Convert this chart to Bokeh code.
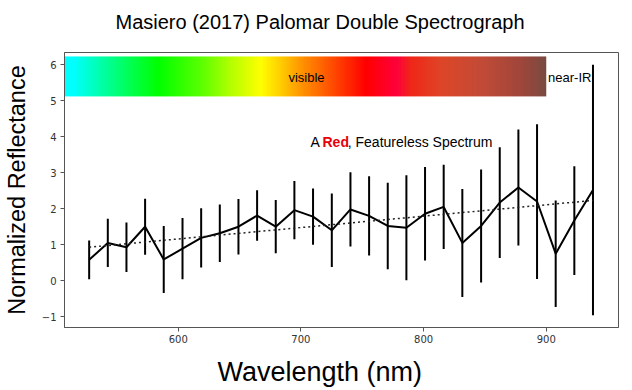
import numpy as np
from bokeh.plotting import figure
from bokeh.models import Label, FixedTicker, Title
from bokeh.embed import file_html
from bokeh.resources import INLINE

# ---- data ----
wavelength = [527.4, 542.6, 557.8, 573.0, 588.2, 603.5, 618.7, 633.9, 649.1, 664.3,
              679.5, 694.7, 709.9, 725.2, 740.4, 755.6, 770.8, 786.0, 801.2, 816.4,
              831.6, 846.9, 862.1, 877.3, 892.5, 907.7, 922.9, 938.1]
reflectance = [0.58, 1.05, 0.93, 1.50, 0.59, 0.89, 1.19, 1.32, 1.50, 1.81,
               1.50, 1.96, 1.78, 1.40, 1.98, 1.80, 1.52, 1.47, 1.86, 2.05,
               1.05, 1.52, 2.17, 2.59, 2.20, 0.75, 1.67, 2.52]
error = [0.54, 0.67, 0.69, 0.78, 0.93, 0.85, 0.82, 0.80, 0.77, 0.70,
         0.74, 0.81, 0.78, 1.02, 1.03, 1.10, 1.20, 1.46, 1.30, 1.17,
         1.50, 1.57, 1.54, 1.61, 2.15, 1.48, 1.51, 3.48]
trend_x = [527.4, 938.1]
trend_y = [0.93, 2.23]

x_ticks = [600, 700, 800, 900]
y_ticks = [-1, 0, 1, 2, 3, 4, 5, 6]

# colour band (wavelength stops and colours)
band_stops = [507.3, 514.6, 536.7, 583.1, 618.2, 642.6, 667.1, 683.4, 699.7,
              724.2, 752.7, 777.2, 789.4, 813.9, 846.5, 879.1, 900.0]
band_colors = [(0, 255, 255), (0, 255, 255), (0, 255, 170), (0, 255, 0), (90, 255, 0),
               (180, 255, 0), (255, 255, 0), (255, 205, 0), (255, 150, 0), (255, 80, 0),
               (255, 0, 0), (255, 0, 60), (240, 40, 25), (222, 70, 40), (195, 75, 55),
               (160, 70, 60), (120, 75, 65)]
band_x0, band_x1 = 507.3, 900.0
band_y0, band_y1 = 5.12, 6.23

X0, X1 = 507.3, 958.9
Y0, Y1 = -1.30, 6.34

FONT = "Liberation Sans"

p = figure(width=632, height=390, x_range=(X0, X1), y_range=(Y0, Y1),
           output_backend="svg", toolbar_location=None,
           min_border_left=64, min_border_right=14, min_border_top=52, min_border_bottom=63)

# spacer between frame and title, then the title itself
p.add_layout(Title(text=" ", text_font_size="2px", standoff=16, text_color="white"), "above")
p.add_layout(Title(text="Masiero (2017) Palomar Double Spectrograph", align="left", offset=51,
                   text_font=FONT, text_font_size="20px", text_font_style="normal",
                   text_color="black", standoff=0), "above")

p.xgrid.visible = False
p.ygrid.visible = False
p.outline_line_color = "#555555"
p.outline_line_width = 1

for ax in (p.xaxis[0], p.yaxis[0]):
    ax.axis_line_color = "#555555"
    ax.major_tick_line_color = "#555555"
    ax.major_tick_out = 4
    ax.major_tick_in = 0
    ax.minor_tick_line_color = None
    ax.major_label_text_font = "DejaVu Sans"
    ax.major_label_text_font_size = "10px"
    ax.major_label_text_color = "#333333"
    ax.axis_label_text_font = FONT
    ax.axis_label_text_font_style = "normal"
    ax.axis_label_text_color = "black"

p.xaxis.ticker = FixedTicker(ticks=x_ticks)
p.yaxis.ticker = FixedTicker(ticks=y_ticks)
p.yaxis.axis_label = "Normalized Reflectance"
p.yaxis.axis_label_text_font_size = "23.5px"
p.xaxis.major_label_standoff = 3
p.yaxis.major_label_standoff = 4
p.yaxis.axis_label_standoff = 9

# x-axis label: spacer below the axis, then the label
p.add_layout(Title(text=" ", text_font_size="2px", standoff=5, text_color="white"), "below")
p.add_layout(Title(text="Wavelength (nm)", align="left", offset=153,
                   text_font=FONT, text_font_size="27px", text_font_style="normal",
                   text_color="black", standoff=0), "below")

# colour band image
N = 600
xs = np.linspace(band_x0, band_x1, N)
rgba = np.zeros((1, N, 4), dtype=np.uint8)
for c in range(3):
    rgba[0, :, c] = np.interp(xs, band_stops, [col[c] for col in band_colors]).astype(np.uint8)
rgba[0, :, 3] = 255
img = rgba.view(dtype=np.uint32).reshape((1, N))
p.image_rgba(image=[img], x=band_x0, y=band_y0, dw=band_x1 - band_x0, dh=band_y1 - band_y0)

# error bars, line, trend
wl = np.array(wavelength)
rf = np.array(reflectance)
er = np.array(error)
p.segment(x0=wl, y0=rf - er, x1=wl, y1=rf + er, line_color="black", line_width=2)
p.line(wl, rf, line_color="black", line_width=2)
p.line(trend_x, trend_y, line_color="#222222", line_width=1.5, line_dash="2 3")

# annotations
p.add_layout(Label(x=704.6, y=5.65, text="visible", text_align="center", text_baseline="middle",
                   text_font=FONT, text_font_size="13px", text_color="black"))
p.add_layout(Label(x=901.5, y=5.65, text="near-IR", text_align="left", text_baseline="middle",
                   text_font=FONT, text_font_size="13px", text_color="black"))
p.add_layout(Label(x=707.8, y=3.84, text="A", text_align="left", text_baseline="middle",
                   text_font=FONT, text_font_size="14px", text_color="black"))
p.add_layout(Label(x=717.6, y=3.84, text="Red", text_align="left", text_baseline="middle",
                   text_font=FONT, text_font_size="14px", text_font_style="bold", text_color="#e8000b"))
p.add_layout(Label(x=738.2, y=3.84, text=", Featureless Spectrum", text_align="left", text_baseline="middle",
                   text_font=FONT, text_font_size="14px", text_color="black"))

open("out.html", "w").write(file_html(p, INLINE))
